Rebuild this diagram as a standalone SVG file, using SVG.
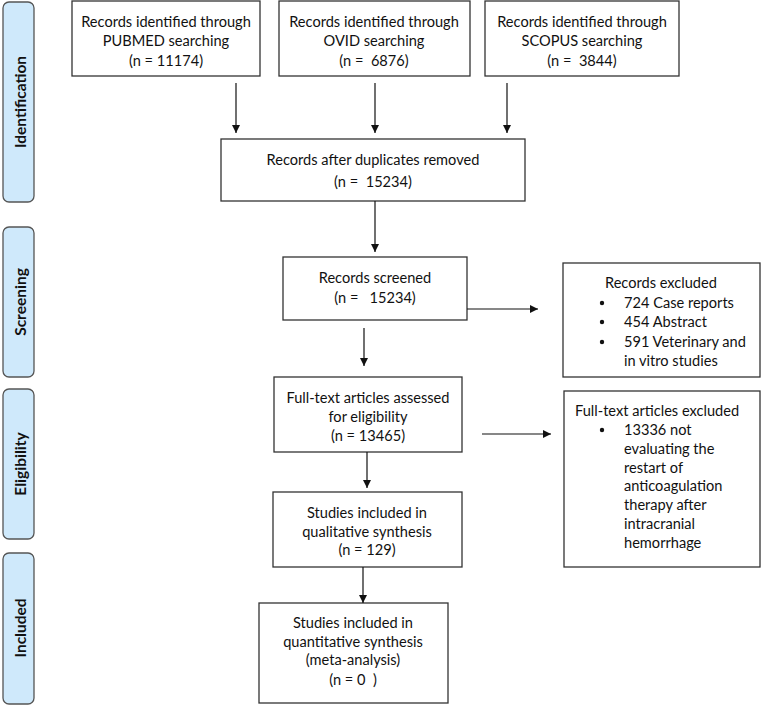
<svg xmlns="http://www.w3.org/2000/svg" width="762" height="705" viewBox="0 0 762 705">
<style>
.box{fill:#fff;stroke:#333;stroke-width:1.3}
.side{fill:#cfe9fb;stroke:#555;stroke-width:1.3}
.t{font-family:Lato,"Open Sans",sans-serif;font-size:14.6px;fill:#111}
.c{text-anchor:middle}
.sl{font-family:Lato,"Open Sans",sans-serif;font-size:15.5px;font-weight:bold;fill:#111;text-anchor:middle}
.ln{stroke:#111;stroke-width:1.2;fill:none;marker-end:url(#ah)}
</style>
<defs>
<marker id="ah" viewBox="0 0 10 10" refX="10" refY="5" markerWidth="8" markerHeight="8" markerUnits="userSpaceOnUse" orient="auto">
<path d="M0,0 L10,5 L0,10 z" fill="#111"/>
</marker>
</defs>
<g id="side-identification"><rect class="side" x="3" y="2" width="31" height="200" rx="6"/><text class="sl" transform="translate(25.5,102) rotate(-90)">Identification</text></g>
<g id="side-screening"><rect class="side" x="3" y="227" width="31" height="150" rx="6"/><text class="sl" transform="translate(25.5,302) rotate(-90)">Screening</text></g>
<g id="side-eligibility"><rect class="side" x="3" y="389" width="31" height="150" rx="6"/><text class="sl" transform="translate(25.5,464) rotate(-90)">Eligibility</text></g>
<g id="side-included"><rect class="side" x="3" y="553" width="31" height="151" rx="6"/><text class="sl" transform="translate(25.5,628) rotate(-90)">Included</text></g>

<g id="pubmed"><rect class="box" x="72" y="1" width="188" height="75"/>
<text class="t c" x="166" y="27">Records identified through</text>
<text class="t c" x="166" y="46">PUBMED searching</text>
<text class="t c" x="166" y="66">(n = 11174)</text></g>
<g id="ovid"><rect class="box" x="279" y="1" width="191" height="75"/>
<text class="t c" x="374" y="27">Records identified through</text>
<text class="t c" x="374" y="46">OVID searching</text>
<text class="t c" x="374" y="66" xml:space="preserve">(n =  6876)</text></g>
<g id="scopus"><rect class="box" x="485" y="1" width="194" height="75"/>
<text class="t c" x="582" y="27">Records identified through</text>
<text class="t c" x="582" y="46">SCOPUS searching</text>
<text class="t c" x="582" y="66" xml:space="preserve">(n =  3844)</text></g>
<g id="duplicates"><rect class="box" x="221" y="139" width="304" height="62"/>
<text class="t c" x="373" y="165">Records after duplicates removed</text>
<text class="t c" x="373" y="187" xml:space="preserve">(n =  15234)</text></g>
<g id="screened"><rect class="box" x="283" y="257" width="184" height="63"/>
<text class="t c" x="375" y="283">Records screened</text>
<text class="t c" x="375" y="303" xml:space="preserve">(n =   15234)</text></g>
<g id="excluded"><rect class="box" x="563" y="263" width="197" height="114"/>
<text class="t" x="605" y="288">Records excluded</text>
<g class="t"><circle cx="602" cy="303" r="2.2"/><circle cx="602" cy="322" r="2.2"/><circle cx="602" cy="342" r="2.2"/></g>
<text class="t" x="624" y="308">724 Case reports</text>
<text class="t" x="624" y="327">454 Abstract</text>
<text class="t" x="624" y="347">591 Veterinary and</text>
<text class="t" x="624" y="366">in vitro studies</text></g>
<g id="fulltext"><rect class="box" x="274" y="377" width="188" height="75"/>
<text class="t c" x="368" y="403">Full-text articles assessed</text>
<text class="t c" x="368" y="422">for eligibility</text>
<text class="t c" x="368" y="441">(n = 13465)</text></g>
<g id="fulltext-excluded"><rect class="box" x="564" y="391" width="196" height="176"/>
<text class="t" x="575" y="416">Full-text articles excluded</text>
<circle cx="602" cy="430" r="2.2" fill="#111"/>
<text class="t" x="624" y="435">13336 not</text>
<text class="t" x="624" y="454">evaluating the</text>
<text class="t" x="624" y="473">restart of</text>
<text class="t" x="624" y="491">anticoagulation</text>
<text class="t" x="624" y="510">therapy after</text>
<text class="t" x="624" y="529">intracranial</text>
<text class="t" x="624" y="548">hemorrhage</text></g>
<g id="qualitative"><rect class="box" x="273" y="492" width="189" height="75"/>
<text class="t c" x="367" y="518">Studies included in</text>
<text class="t c" x="367" y="537">qualitative synthesis</text>
<text class="t c" x="367" y="555">(n = 129)</text></g>
<g id="quantitative"><rect class="box" x="259" y="603" width="189" height="100"/>
<text class="t c" x="353" y="628">Studies included in</text>
<text class="t c" x="353" y="647">quantitative synthesis</text>
<text class="t c" x="353" y="665">(meta-analysis)</text>
<text class="t c" x="353" y="685" xml:space="preserve">(n = 0  )</text></g>

<g id="connectors">
<line class="ln" x1="236" y1="83" x2="236" y2="133"/>
<line class="ln" x1="375" y1="83" x2="375" y2="133"/>
<line class="ln" x1="507" y1="83" x2="507" y2="133"/>
<line class="ln" x1="375" y1="201" x2="375" y2="252"/>
<line class="ln" x1="467" y1="309" x2="538" y2="309"/>
<line class="ln" x1="364" y1="328" x2="364" y2="366"/>
<line class="ln" x1="482" y1="434" x2="551" y2="434"/>
<line class="ln" x1="367" y1="452" x2="367" y2="488"/>
<line class="ln" x1="363" y1="567" x2="363" y2="603"/>
</g>
</svg>
